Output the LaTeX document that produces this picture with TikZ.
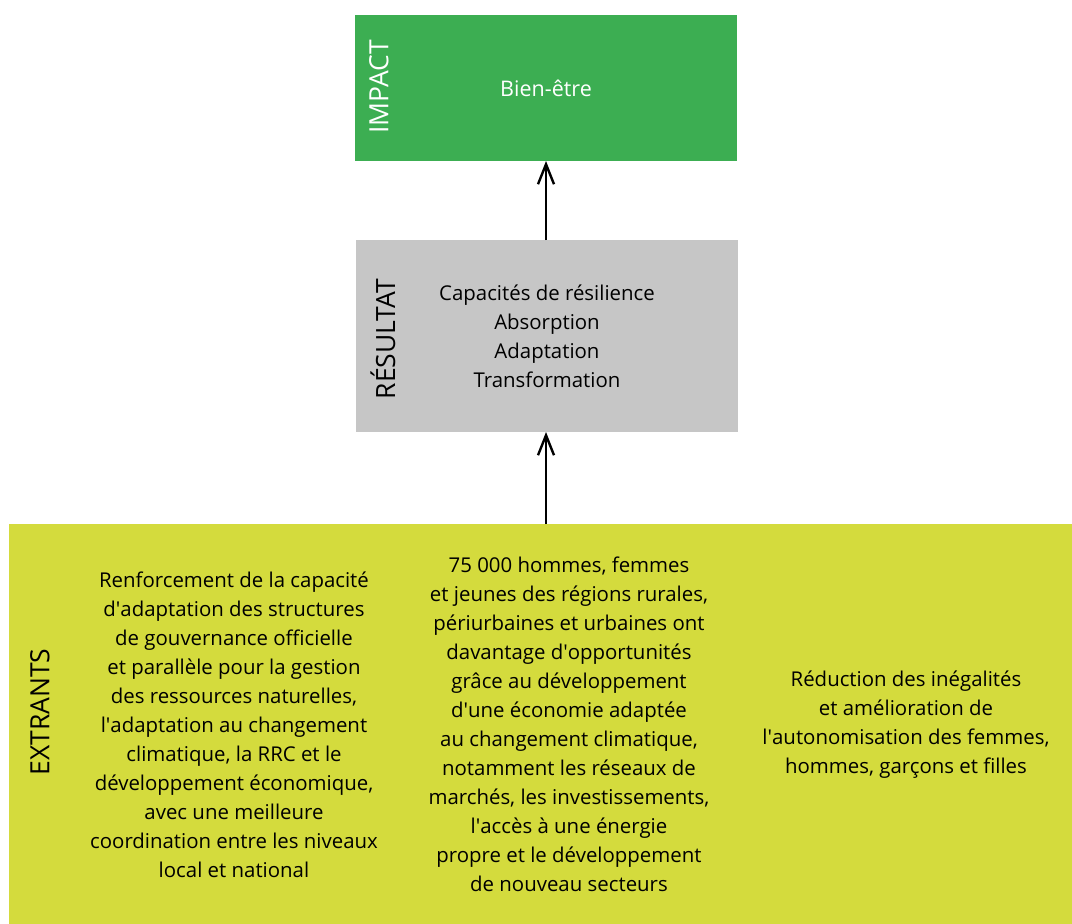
\documentclass[tikz,border=0pt]{standalone}
\usepackage{fontspec}
\setmainfont{Open Sans}
\usetikzlibrary{arrows.meta}
\definecolor{impactgreen}{HTML}{3CAE52}
\definecolor{resgray}{HTML}{C6C6C6}
\definecolor{extyellow}{HTML}{D4DB3D}
\newcommand\ap{\textquotesingle}
\tikzset{
  body/.style={align=center,font=\fontsize{20.4}{29}\selectfont,text=black},
  vlabel/.style={rotate=90,font=\fontsize{26.5}{30}\selectfont},
  uparrow/.style={line width=2.6pt,-{Straight Barb[length=20pt,width=16pt,line width=2.4pt]}},
}
\begin{document}
\begin{tikzpicture}[x=1pt,y=-1pt]
\useasboundingbox (0,0) rectangle (1072,924);
\fill[impactgreen] (355,15) rectangle (737,161);
\coordinate (impactS) at (546,161);
\fill[resgray] (356,240) rectangle (738,432);
\coordinate (resN) at (546,240);
\coordinate (resS) at (546,432);
\fill[extyellow] (9,524) rectangle (1072,924);
\coordinate (extN) at (546,524);

\node[vlabel,text=white] (limpact) at (379,87) {IMPACT};
\node[font=\fontsize{21.5}{29}\selectfont,text=white] (bien) at (546,88) {Bien-être};

\node[vlabel,text=black] (lres) at (383,339) {RÉSULTAT};
\node[body] (restext) at (547,336) {Capacités de résilience\\Absorption\\Adaptation\\Transformation};

\node[vlabel,text=black] (lext) at (40,712) {EXTRANTS};
\node[body] (c1) at (234,725) {Renforcement de la capacité\\d\ap adaptation des structures\\de gouvernance officielle\\et parallèle pour la gestion\\des ressources naturelles,\\l\ap adaptation au changement\\climatique, la RRC et le\\développement économique,\\avec une meilleure\\coordination entre les niveaux\\local et national};
\node[body] (c2) at (569,724) {75 000 hommes, femmes\\et jeunes des régions rurales,\\périurbaines et urbaines ont\\davantage d\ap opportunités\\grâce au développement\\d\ap une économie adaptée\\au changement climatique,\\notamment les réseaux de\\marchés, les investissements,\\l\ap accès à une énergie\\propre et le développement\\de nouveau secteurs};
\node[body] (c3) at (906,725) {Réduction des inégalités\\et amélioration de\\l\ap autonomisation des femmes,\\hommes, garçons et filles};

\draw[uparrow] (resN) -- (impactS);
\draw[uparrow] (extN) -- (resS);
\end{tikzpicture}
\end{document}
